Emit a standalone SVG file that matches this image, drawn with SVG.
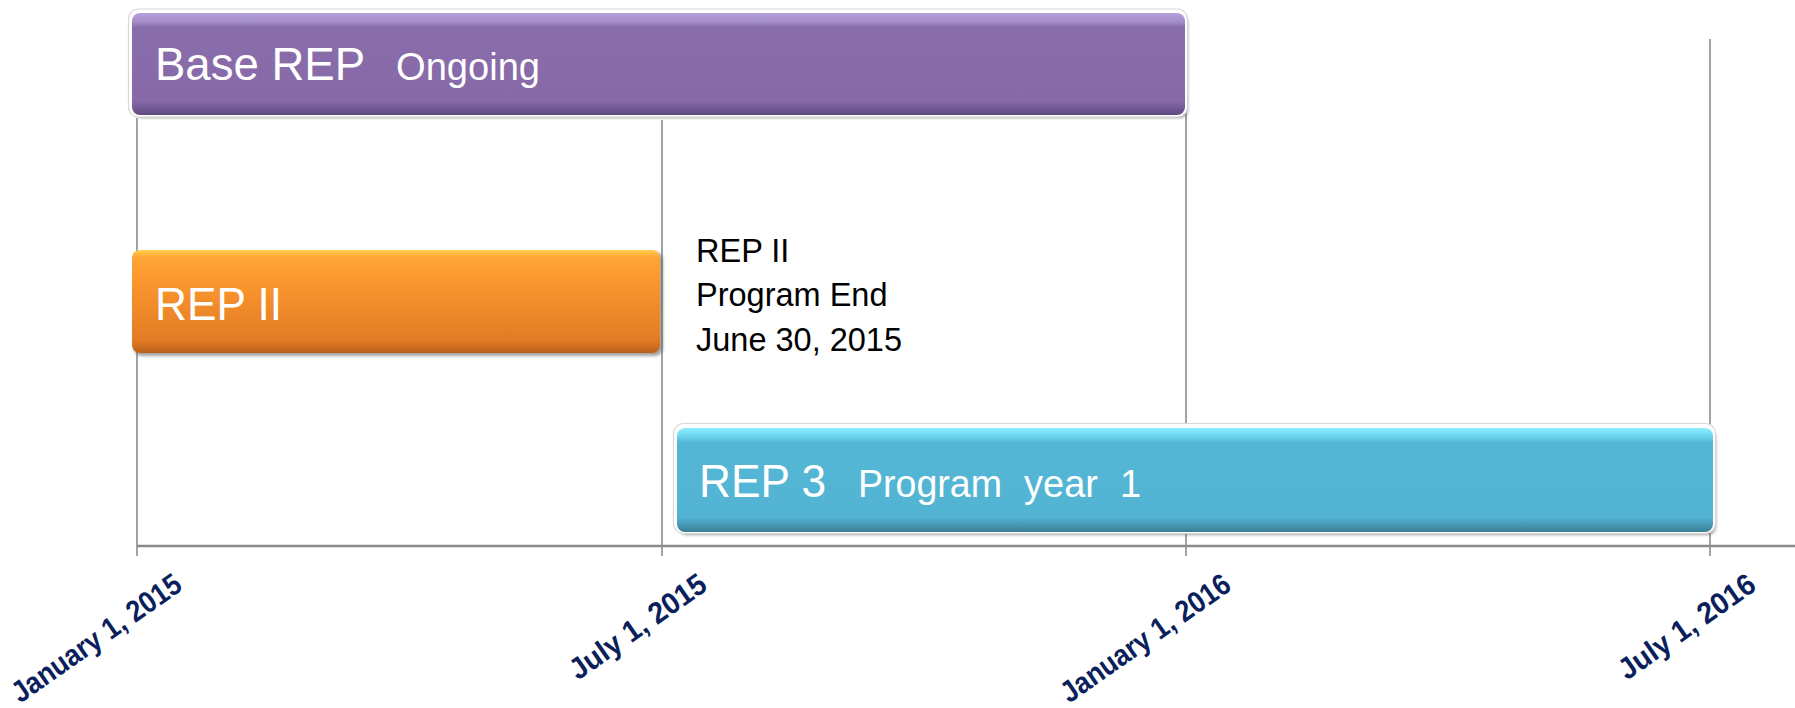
<svg xmlns="http://www.w3.org/2000/svg" width="1795" height="708" viewBox="0 0 1795 708">
<style>
.grid{stroke:#8c8c8c;stroke-width:1.6;fill:none}
.axis{stroke:#8a8a8a;stroke-width:2.6;fill:none}
.bartxt{font-family:"Liberation Sans",Arial,sans-serif;fill:#ffffff}
.note{font-family:"Liberation Sans",Arial,sans-serif;font-size:32.5px;fill:#000000}
.date{font-family:"Liberation Sans",Arial,sans-serif;font-size:30px;font-weight:bold;fill:#0b1f5c}
.rim{fill:#ffffff;stroke:#d8d8d8;stroke-width:1.2}
.shadow{fill:#5a5a5a;opacity:0.55}
</style>
<defs>
<linearGradient id="gPurple" x1="0" y1="0" x2="0" y2="1">
<stop offset="0" stop-color="#b7a2dc"/>
<stop offset="0.09" stop-color="#a48cc9"/>
<stop offset="0.14" stop-color="#8a6dab"/>
<stop offset="0.86" stop-color="#8769a8"/>
<stop offset="0.93" stop-color="#745a96"/>
<stop offset="1" stop-color="#5f4a7e"/>
</linearGradient>
<linearGradient id="gOrange" x1="0" y1="0" x2="0" y2="1">
<stop offset="0" stop-color="#ffd24a"/>
<stop offset="0.07" stop-color="#ffa436"/>
<stop offset="0.3" stop-color="#fb972f"/>
<stop offset="0.88" stop-color="#e27b24"/>
<stop offset="1" stop-color="#b8601a"/>
</linearGradient>
<linearGradient id="gBlue" x1="0" y1="0" x2="0" y2="1">
<stop offset="0" stop-color="#8aefff"/>
<stop offset="0.08" stop-color="#6cd4ee"/>
<stop offset="0.14" stop-color="#54b7d5"/>
<stop offset="0.86" stop-color="#52b4d2"/>
<stop offset="0.93" stop-color="#4599b6"/>
<stop offset="1" stop-color="#3a7d94"/>
</linearGradient>
<filter id="blur" x="-5%" y="-20%" width="110%" height="140%">
<feGaussianBlur stdDeviation="1.6"/>
</filter>
</defs>
<rect width="1795" height="708" fill="#ffffff"/>

<g id="gridlines">
<line class="grid" x1="137" y1="118" x2="137" y2="556"/>
<line class="grid" x1="662" y1="120" x2="662" y2="556"/>
<line class="grid" x1="1186" y1="113" x2="1186" y2="556"/>
<line class="grid" x1="1710" y1="39" x2="1710" y2="556"/>
<line class="axis" x1="137" y1="546" x2="1795" y2="546"/>
</g>

<g id="base-rep">
<rect class="shadow" x="134" y="15" width="1054" height="103" rx="8" filter="url(#blur)"/>
<rect class="rim" x="128.5" y="9" width="1059" height="108" rx="10"/>
<rect x="132" y="13" width="1053" height="102" rx="8" fill="url(#gPurple)"/>
<text class="bartxt" x="155" y="80" font-size="47" textLength="210" lengthAdjust="spacingAndGlyphs">Base REP</text>
<text class="bartxt" x="396" y="80" font-size="38" textLength="144" lengthAdjust="spacingAndGlyphs">Ongoing</text>
</g>

<g id="rep-ii">
<rect class="shadow" x="134" y="252" width="529" height="104" rx="8" filter="url(#blur)"/>
<rect x="132" y="250" width="528" height="103" rx="8" fill="url(#gOrange)"/>
<text class="bartxt" x="155" y="320" font-size="46" textLength="127" lengthAdjust="spacingAndGlyphs">REP II</text>
</g>

<g id="rep-ii-note">
<text class="note" x="696" y="262">REP II</text>
<text class="note" x="696" y="306">Program End</text>
<text class="note" x="696" y="351">June 30, 2015</text>
</g>

<g id="rep-3">
<rect class="shadow" x="679" y="430" width="1037" height="105" rx="8" filter="url(#blur)"/>
<rect class="rim" x="673.5" y="423.5" width="1042" height="110" rx="10"/>
<rect x="677" y="428" width="1036" height="104" rx="8" fill="url(#gBlue)"/>
<text class="bartxt" x="699" y="497" font-size="46" textLength="127" lengthAdjust="spacingAndGlyphs">REP 3</text>
<text class="bartxt" x="858" y="497" font-size="38" textLength="144" lengthAdjust="spacingAndGlyphs">Program</text>
<text class="bartxt" x="1024" y="497" font-size="38">year</text>
<text class="bartxt" x="1120" y="497" font-size="38">1</text>
</g>

<g id="date-labels">
<text class="date" text-anchor="end" textLength="200" lengthAdjust="spacingAndGlyphs" transform="translate(184,589) rotate(-35)">January 1, 2015</text>
<text class="date" text-anchor="end" textLength="160" lengthAdjust="spacingAndGlyphs" transform="translate(709,589) rotate(-35)">July 1, 2015</text>
<text class="date" text-anchor="end" textLength="200" lengthAdjust="spacingAndGlyphs" transform="translate(1233,589) rotate(-35)">January 1, 2016</text>
<text class="date" text-anchor="end" textLength="160" lengthAdjust="spacingAndGlyphs" transform="translate(1758,589) rotate(-35)">July 1, 2016</text>
</g>
</svg>
